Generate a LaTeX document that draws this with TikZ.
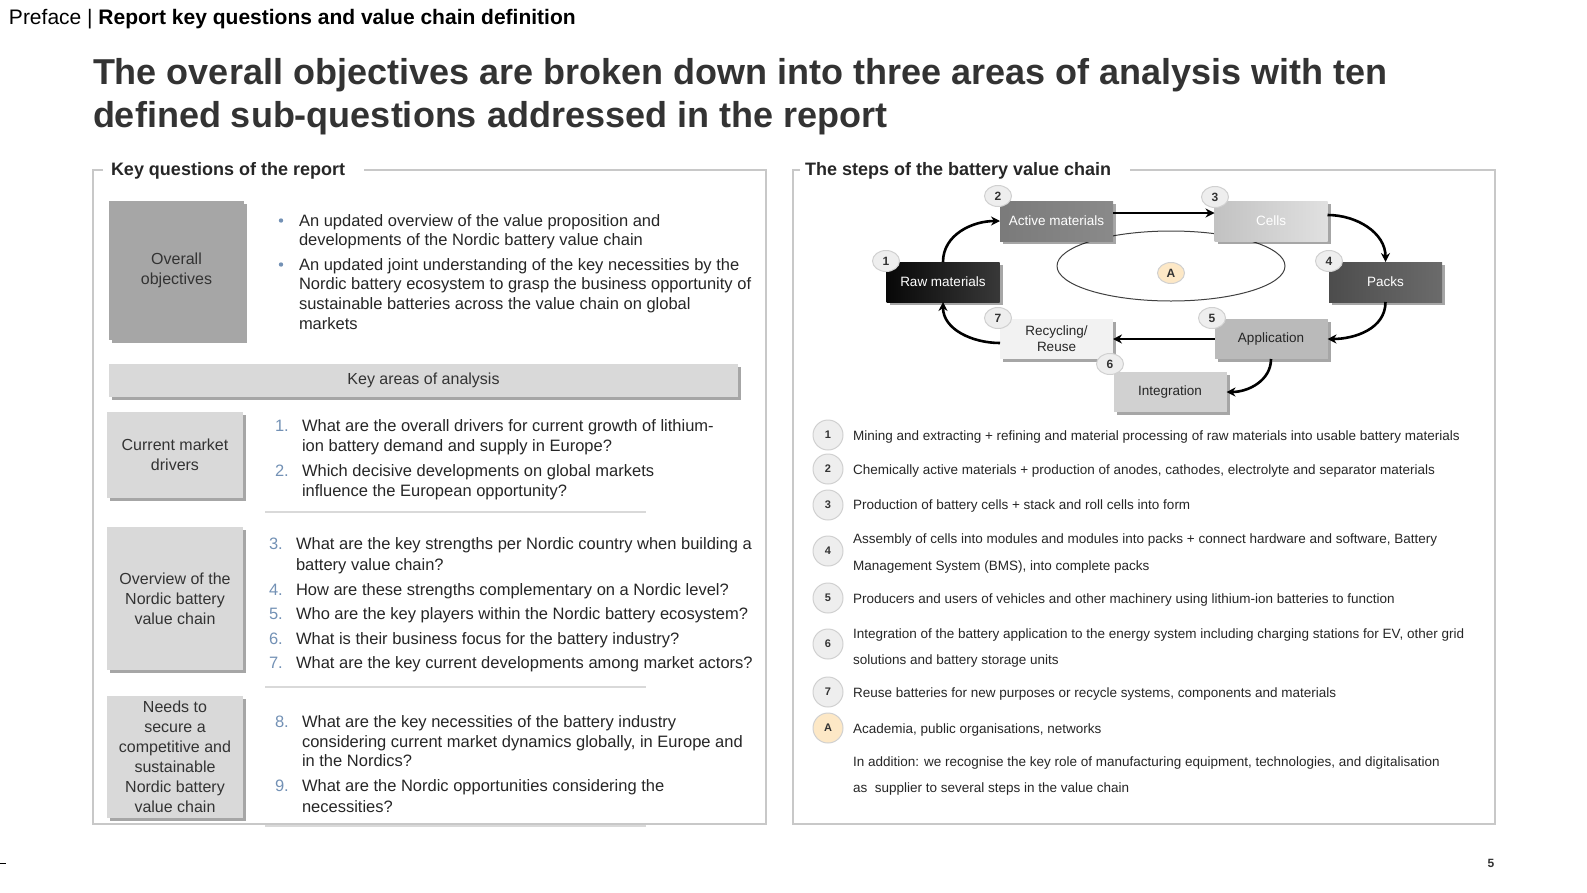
\documentclass[tikz,border=0pt]{standalone}
\usepackage{fontspec}
\setmainfont{Liberation Sans}
\usetikzlibrary{shadows,arrows.meta,shapes.geometric}
\definecolor{txt}{HTML}{262626}
\definecolor{ttl}{HTML}{333333}
\definecolor{framec}{HTML}{C8C8C8}
\definecolor{sepc}{HTML}{D9D9D9}
\definecolor{numblue}{HTML}{7391B5}
\definecolor{boxdark}{HTML}{A6A6A6}
\definecolor{boxlight}{HTML}{D9D9D9}
\definecolor{circfill}{HTML}{EEEEEE}
\definecolor{circline}{HTML}{D0D0D0}
\definecolor{aorange}{HTML}{FDE8C6}
\newcommand{\fs}[2]{\fontsize{#1}{#2}\selectfont}
\begin{document}
\begin{tikzpicture}[x=1pt,y=-1pt,
  every node/.style={inner sep=0pt, outer sep=0pt, text=txt},
  shd/.style={drop shadow={shadow xshift=3pt, shadow yshift=-3pt, fill=black, opacity=0.35}},
  labelbox/.style={shd, align=center, font=\fs{16}{20}, text=ttl},
  tline/.style={anchor=base west, font=\fs{16.5}{20}},
  qnum/.style={anchor=base west, font=\fs{16.5}{20}, text=numblue},
  chainbox/.style={shd, minimum width=113, minimum height=40, font=\fs{13.5}{16}, align=center},
  numc/.style={ellipse, fill=circfill, draw=circline, line width=1, minimum width=27, minimum height=21, font=\bfseries\fs{12}{14}, text=ttl},
  legc/.style={circle, fill=circfill, draw=circline, line width=1, minimum size=30, font=\bfseries\fs{11}{13}, text=ttl},
  leg/.style={anchor=base west, font=\fs{13.5}{16}},
  arr/.style={line width=2.6, -{Stealth[length=9pt,width=9pt]}, black},
  framel/.style={framec, line width=1.5},
  sepl/.style={sepc, line width=1.5}]
\useasboundingbox (0,0) rectangle (1587,892);

% header and title
\node[anchor=base west, font=\fs{21}{24}, text=black] (hdr) at (9,24) {Preface | \textbf{Report key questions and value chain definition}};
\node[anchor=base west, font=\bfseries\fs{36}{42}, text=ttl] (t1) at (93,84.5) {The overall objectives are broken down into three areas of analysis with ten};
\node[anchor=base west, font=\bfseries\fs{36}{42}, text=ttl] (t2) at (93,127.5) {defined sub-questions addressed in the report};

% frames
\draw[framel] (103,170) -- (93,170) -- (93,824) -- (766,824) -- (766,170) -- (364,170);
\node[anchor=base west, font=\bfseries\fs{18}{22}] (lt) at (111,175.5) {Key questions of the report};
\draw[framel] (800,170) -- (793,170) -- (793,824) -- (1495,824) -- (1495,170) -- (1130,170);
\node[anchor=base west, font=\bfseries\fs{18}{22}] (rt) at (805,175.5) {The steps of the battery value chain};

% left side boxes
\node[labelbox, fill=boxdark, minimum width=135, minimum height=139] (obj) at (176.5,270.5) {Overall\\objectives};
\node[labelbox, fill=boxlight, minimum width=629, minimum height=33] (kaa) at (423.5,380.5) {Key areas of analysis};
\node[labelbox, fill=boxlight, minimum width=136, minimum height=86] (cmd) at (175,455) {Current market\\drivers};
\node[labelbox, fill=boxlight, minimum width=136, minimum height=143] (ovw) at (175,598.5) {Overview of the\\Nordic battery\\value chain};
\node[labelbox, fill=boxlight, minimum width=136, minimum height=122] (nds) at (175,757) {Needs to\\secure a\\competitive and\\sustainable\\Nordic battery\\value chain};

% bullets
\fill[numblue] (281,220.5) circle (2.2);
\fill[numblue] (281,264.5) circle (2.2);
\node[tline] (b1a) at (299,226.5) {An updated overview of the value proposition and};
\node[tline] (b1b) at (299,245.5) {developments of the Nordic battery value chain};
\node[tline] (b2a) at (299,270.5) {An updated joint understanding of the key necessities by the};
\node[tline] (b2b) at (299,289.5) {Nordic battery ecosystem to grasp the business opportunity of};
\node[tline] (b2c) at (299,309.5) {sustainable batteries across the value chain on global};
\node[tline] (b2d) at (299,329.5) {markets};

% questions 1-2
\node[qnum] (n1) at (275,431.5) {1.};
\node[tline] (q1a) at (302,431.5) {What are the overall drivers for current growth of lithium-};
\node[tline] (q1b) at (302,451.5) {ion battery demand and supply in Europe?};
\node[qnum] (n2) at (275,476.5) {2.};
\node[tline] (q2a) at (302,476.5) {Which decisive developments on global markets};
\node[tline] (q2b) at (302,496.5) {influence the European opportunity?};
\draw[sepl] (265,512) -- (646,512);

% questions 3-7
\node[qnum] (n3) at (269,549.5) {3.};
\node[tline] (q3a) at (296,549.5) {What are the key strengths per Nordic country when building a};
\node[tline] (q3b) at (296,570.5) {battery value chain?};
\node[qnum] (n4) at (269,595.5) {4.};
\node[tline] (q4) at (296,595.5) {How are these strengths complementary on a Nordic level?};
\node[qnum] (n5) at (269,619.5) {5.};
\node[tline] (q5) at (296,619.5) {Who are the key players within the Nordic battery ecosystem?};
\node[qnum] (n6) at (269,644.5) {6.};
\node[tline] (q6) at (296,644.5) {What is their business focus for the battery industry?};
\node[qnum] (n7) at (269,668.5) {7.};
\node[tline] (q7) at (296,668.5) {What are the key current developments among market actors?};
\draw[sepl] (265,687) -- (646,687);

% questions 8-9
\node[qnum] (n8) at (275,727.5) {8.};
\node[tline] (q8a) at (302,727.5) {What are the key necessities of the battery industry};
\node[tline] (q8b) at (302,747.5) {considering current market dynamics globally, in Europe and};
\node[tline] (q8c) at (302,766.5) {in the Nordics?};
\node[qnum] (n9) at (275,791.5) {9.};
\node[tline] (q9a) at (302,791.5) {What are the Nordic opportunities considering the};
\node[tline] (q9b) at (302,812.5) {necessities?};
\draw[sepl] (265,826) -- (646,826);

% value chain diagram
\draw[black!75, line width=1] (1171,266) ellipse [x radius=114, y radius=35];
\node[chainbox, left color=black!97, right color=black!78, text=white] (raw) at (943,282) {Raw materials};
\node[chainbox, left color=black!52, right color=black!46, text=white] (act) at (1056.5,221) {Active materials};
\node[chainbox, left color=black!24, right color=black!12, text=white] (cel) at (1271,221) {Cells};
\node[chainbox, left color=black!70, right color=black!58, text=white] (pck) at (1385.5,282) {Packs};
\node[chainbox, fill=black!27] (app) at (1271,339) {Application};
\node[chainbox, fill=black!5] (rec) at (1056.5,339) {Recycling/\\Reuse};
\node[chainbox, fill=black!18] (int) at (1170,392) {Integration};
\node[numc, fill=aorange] (ca) at (1171,273) {A};

\draw[arr] (raw.north) to[out=90,in=180] (act.west);
\draw[arr] ([yshift=8pt]act.east) -- ([yshift=8pt]cel.west);
\draw[arr] ([yshift=6pt]cel.east) to[out=0,in=90] (pck.north);
\draw[arr] (pck.south) to[out=-90,in=0] (app.east);
\draw[arr] (app.west) -- (rec.east);
\draw[arr] (app.south) to[out=-90,in=0] (int.east);
\draw[arr] ([yshift=-4pt]rec.west) to[out=180,in=-90] (raw.south);

\node[numc] (c1) at (886,261) {1};
\node[numc] (c2) at (998,196) {2};
\node[numc] (c3) at (1215,197) {3};
\node[numc] (c4) at (1329,261) {4};
\node[numc] (c5) at (1212,318) {5};
\node[numc] (c6) at (1110,364) {6};
\node[numc] (c7) at (998,318) {7};

% legend
\node[legc] (l1) at (828,435) {1};
\node[leg] (x1) at (853,440) {Mining and extracting + refining and material processing of raw materials into usable battery materials};
\node[legc] (l2) at (828,469) {2};
\node[leg] (x2) at (853,474) {Chemically active materials + production of anodes, cathodes, electrolyte and separator materials};
\node[legc] (l3) at (828,505) {3};
\node[leg] (x3) at (853,509.5) {Production of battery cells + stack and roll cells into form};
\node[legc] (l4) at (828,551) {4};
\node[leg] (x4a) at (853,543) {Assembly of cells into modules and modules into packs + connect hardware and software, Battery};
\node[leg] (x4b) at (853,570) {Management System (BMS), into complete packs};
\node[legc] (l5) at (828,598) {5};
\node[leg] (x5) at (853,603) {Producers and users of vehicles and other machinery using lithium-ion batteries to function};
\node[legc] (l6) at (828,644) {6};
\node[leg] (x6a) at (853,638) {Integration of the battery application to the energy system including charging stations for EV, other grid};
\node[leg] (x6b) at (853,664) {solutions and battery storage units};
\node[legc] (l7) at (828,692) {7};
\node[leg] (x7) at (853,697) {Reuse batteries for new purposes or recycle systems, components and materials};
\node[legc, fill=aorange] (lA) at (828,728) {A};
\node[leg] (xA) at (853,733) {Academia, public organisations, networks};
\node[leg] (xz1) at (853,766) {In addition: we recognise the key role of manufacturing equipment, technologies, and digitalisation};
\node[leg] (xz2) at (853,792) {as\ \ supplier to several steps in the value chain};

% footer
\draw[black, line width=1] (0,863) -- (6,863);
\node[font=\bfseries\fs{12}{14}, text=ttl] (pg) at (1491,863) {5};
\end{tikzpicture}
\end{document}
